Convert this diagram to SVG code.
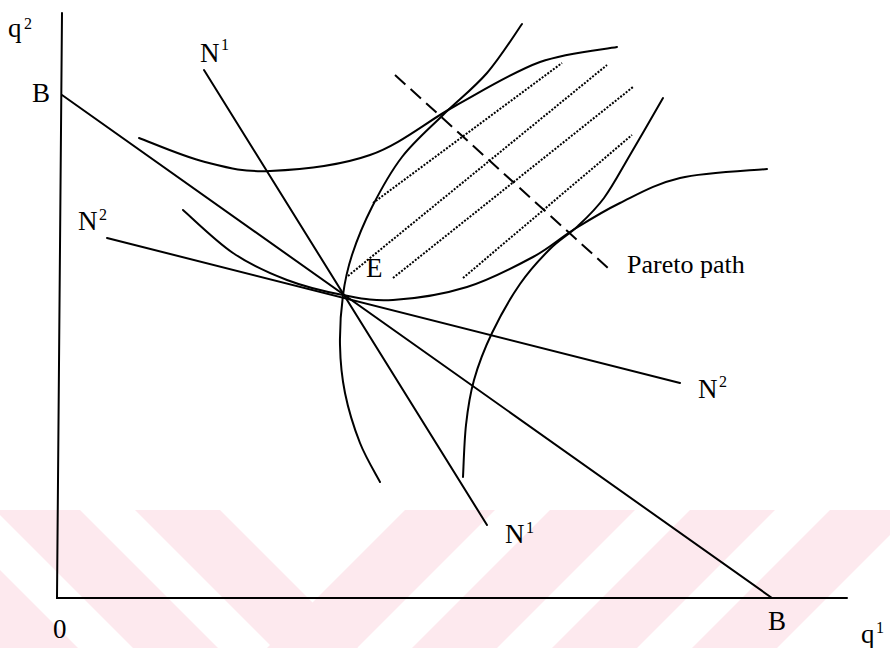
<svg xmlns="http://www.w3.org/2000/svg" width="890" height="648" viewBox="0 0 890 648">
<style>
.ln{fill:none;stroke:#000;stroke-width:2;stroke-linecap:round}
.dot{fill:none;stroke:#000;stroke-width:2;stroke-dasharray:2 1.5}
.dash{fill:none;stroke:#000;stroke-width:2;stroke-dasharray:14 7}
.t{font-family:"Liberation Serif","Times New Roman",serif;font-size:27px;fill:#000}
.p{font-family:"Liberation Serif","Times New Roman",serif;font-size:26px;fill:#000}
.s{font-family:"Liberation Serif","Times New Roman",serif;font-size:16px;fill:#000}
.wm{fill:#fde9ee}
</style>
<defs><clipPath id="band"><rect x="0" y="510" width="890" height="138"/></clipPath></defs>
<rect width="890" height="648" fill="#fff"/>
<g id="watermark" clip-path="url(#band)">
<polygon class="wm" points="-145,510 -60,510 78,648 -7,648"/>
<polygon class="wm" points="-5,510 80,510 218,648 133,648"/>
<polygon class="wm" points="135,510 220,510 358,648 273,648"/>
<polygon class="wm" points="405,510 495,510 357,648 267,648"/>
<polygon class="wm" points="550,510 635,510 497,648 412,648"/>
<polygon class="wm" points="690,510 775,510 637,648 552,648"/>
<polygon class="wm" points="830,510 915,510 777,648 692,648"/>
</g>
<g id="axes">
<path class="ln" d="M62,13 L57,598 L847,598"/>
</g>
<g id="connectors">
<path id="budget" class="ln" d="M62,95 L772,598"/>
<path id="N1line" class="ln" d="M204,70 L487,525"/>
<path id="N2line" class="ln" d="M107,238 L680,383"/>
<path id="pareto" class="dash" d="M395,75 L608,268"/>
</g>
<g id="curves">
<path id="curve1" class="ln" d="M139,138 C150,142 183.2,156.5 205,162 C226.8,167.5 242.5,172.2 270,171 C297.5,169.8 339.2,165.8 370,155 C400.8,144.2 426.7,121.5 455,106 C483.3,90.5 513,71.8 540,62 C567,52.2 604.2,49.5 617,47"/>
<path id="curve2" class="ln" d="M380,482 C376.7,475.5 365.8,457.8 360,443 C354.2,428.2 348.3,409.3 345,393 C341.7,376.7 340.3,361.3 340,345 C339.7,328.7 341,310 343,295 C345,280 347.2,269.7 352,255 C356.8,240.3 363.7,223.3 372,207 C380.3,190.7 390.2,172.3 402,157 C413.8,141.7 428.8,129 443,115 C457.2,101 473.8,88.2 487,73 C500.2,57.8 516.2,32.2 522,24"/>
<path id="curve3" class="ln" d="M183,210 C191.3,217.2 215.7,241.3 233,253 C250.3,264.7 268.7,273 287,280 C305.3,287 325.3,291.7 343,295 C360.7,298.3 372.3,301.3 393,300 C413.7,298.7 443.7,294.2 467,287 C490.3,279.8 515.3,266.5 533,257 C550.7,247.5 558.5,239 573,230 C587.5,221 602.2,211.7 620,203 C637.8,194.3 655.5,183.7 680,178 C704.5,172.3 752.5,170.5 767,169"/>
<path id="curve4" class="ln" d="M463,477 C463.5,468.3 464.2,441.2 466,425 C467.8,408.8 469.7,395.3 474,380 C478.3,364.7 484.3,349 492,333 C499.7,317 510.3,298 520,284 C529.7,270 540.3,258.7 550,249 C559.7,239.3 569,234.5 578,226 C587,217.5 595.3,209.8 604,198 C612.7,186.2 620.2,171.7 630,155 C639.8,138.3 657.5,107.5 663,98"/>
</g>
<g id="hatching">
<path class="dot" d="M373,203 L562,63"/>
<path class="dot" d="M348,276 L607,65"/>
<path class="dot" d="M393,278 L633,87"/>
<path class="dot" d="M463,278 L632,135"/>
</g>
<g id="labels">
<g id="lbl-q2"><text class="t" x="8" y="37">q</text><text class="s" x="24" y="29">2</text></g>
<g id="lbl-B-top"><text class="t" x="32" y="102">B</text></g>
<g id="lbl-N1-top"><text class="t" x="200" y="62">N</text><text class="s" x="221" y="50">1</text></g>
<g id="lbl-N2-left"><text class="t" x="78" y="230">N</text><text class="s" x="99" y="220">2</text></g>
<g id="lbl-E"><text class="t" x="366" y="277">E</text></g>
<g id="lbl-pareto"><text class="p" x="627" y="273">Pareto path</text></g>
<g id="lbl-N2-right"><text class="t" x="698" y="398">N</text><text class="s" x="719" y="387">2</text></g>
<g id="lbl-N1-bottom"><text class="t" x="505" y="543">N</text><text class="s" x="526" y="533">1</text></g>
<g id="lbl-0"><text class="t" x="53" y="638">0</text></g>
<g id="lbl-B-bottom"><text class="t" x="768" y="630">B</text></g>
<g id="lbl-q1"><text class="t" x="861" y="643">q</text><text class="s" x="876" y="633">1</text></g>
</g>
</svg>
